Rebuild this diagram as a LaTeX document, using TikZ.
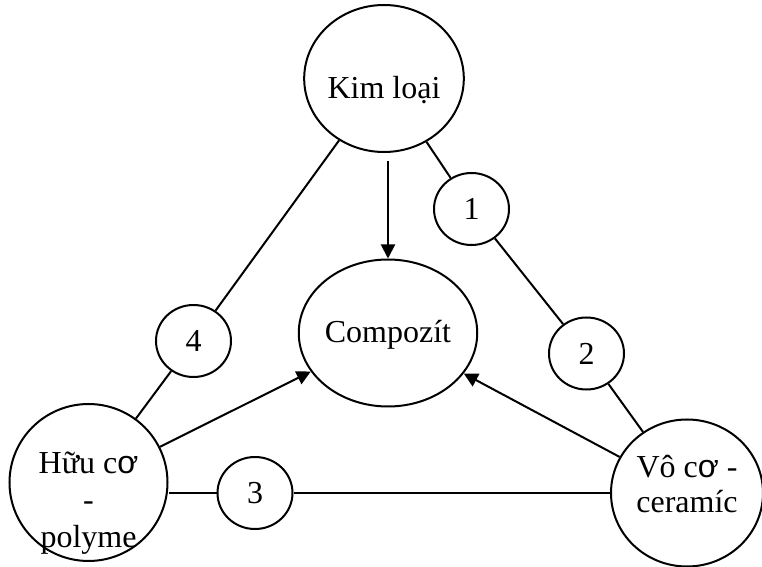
\documentclass[tikz,border=0pt]{standalone}
\usepackage{fontspec}
\setmainfont{Liberation Serif}
\newfontfamily\sansft{Liberation Sans}
\usetikzlibrary{arrows.meta,shapes.geometric}
\newcommand{\lowered}[2]{\raisebox{#1}[\height][\depth]{\begin{tabular}{@{}c@{}}#2\end{tabular}}}

\begin{document}
\begin{tikzpicture}[x=0.5pt,y=-0.5pt,line width=1pt,>={Triangle[length=7pt,width=7pt]},
                    font=\fontsize{16}{18.5}\selectfont,
                    bigCircle/.style={draw,ellipse,inner sep=0pt,minimum width=79pt,minimum height=73.5pt},
                    smallCircle/.style={draw,ellipse,inner sep=0pt,minimum width=37.5pt,minimum height=36pt}]
   \useasboundingbox (0,0) rectangle (762,567);
   \node[bigCircle] (kimLoai) at (384,78.5) {\lowered{-6.3pt}{Kim loại}};
   \node[bigCircle] (compozit) at (388,333) {\lowered{-1.3pt}{Compozít}};
   \node[bigCircle] (huuCo) at (88.5,482.5) {\lowered{-10.5pt}{Hữu c{\sansft ơ}\\-\\polyme}};
   \node[bigCircle,minimum width=76pt,font=\fontsize{16}{17.5}\selectfont] (voCo) at (687,493)
        {\lowered{2.7pt}{Vô c{\sansft ơ} -\\ceramíc}};
   \node[smallCircle] (link1) at (471.5,209) {1};
   \node[smallCircle] (link2) at (586.5,353.5) {2};
   \node[smallCircle] (link3) at (255,493) {3};
   \node[smallCircle] (link4) at (193.5,341) {4};
    \path[draw]
    (kimLoai) edge (link1)
    (link1) edge (link2)
    (link2) edge (voCo)
    (voCo) edge (link3)
    (link3.west) edge (huuCo.east |- link3.west)
    (huuCo) edge (link4)
    (link4) edge (kimLoai);
    \draw[->,shorten <=4pt] (kimLoai.south -| compozit.north) -- (compozit.north);
    \draw[->] (huuCo) -- (compozit);
    \draw[->] (voCo) -- (compozit);

\end{tikzpicture}
\end{document}
